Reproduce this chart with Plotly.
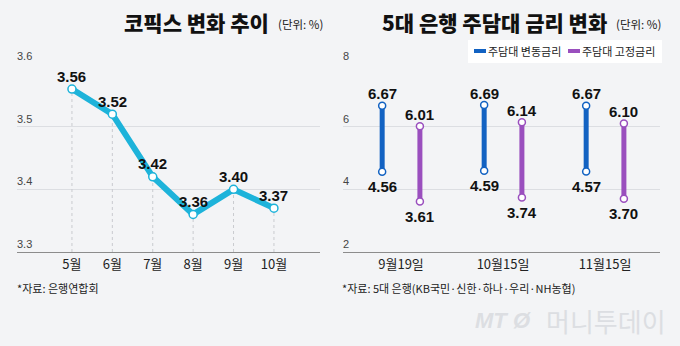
import plotly.graph_objects as go

# COFIX monthly values
months = ["5월", "6월", "7월", "8월", "9월", "10월"]
cofix = [3.56, 3.52, 3.42, 3.36, 3.40, 3.37]
cofix_ticks = [3.3, 3.4, 3.5, 3.6]

# Mortgage rate ranges of the five major banks
dates = ["9월19일", "10월15일", "11월15일"]
var_low = [4.56, 4.59, 4.57]
var_high = [6.67, 6.69, 6.67]
fix_low = [3.61, 3.74, 3.70]
fix_high = [6.01, 6.14, 6.10]
rate_ticks = [2, 4, 6, 8]

W, H = 680, 346
BG = "#f3f4f6"
CYAN = "#1db3da"
BLUE = "#1262c2"
PURPLE = "#9a4fbe"
GRID = "#dcdee2"
AXIS = "#8c8c8c"
KR = "Noto Sans CJK KR"
NUM = "Liberation Sans, Arial, sans-serif"


def px(x):
    return x / W


def py(y):
    return 1 - y / H


fig = go.Figure()

# ---- left: COFIX line ----
xi = list(range(len(months)))
drop_x, drop_y = [], []
for x, v in zip(xi, cofix):
    drop_x += [x, x, None]
    drop_y += [cofix_ticks[0], v, None]
fig.add_trace(go.Scatter(x=drop_x, y=drop_y, mode="lines", xaxis="x", yaxis="y",
                         line=dict(color="#c9cbcf", width=1, dash="dot"),
                         hoverinfo="skip", showlegend=False))
fig.add_trace(go.Scatter(x=xi, y=cofix, mode="lines+markers", xaxis="x", yaxis="y",
                         line=dict(color=CYAN, width=6),
                         marker=dict(size=8, color="white", line=dict(color=CYAN, width=1.5)),
                         showlegend=False, cliponaxis=False))

annotations = []
for x, v in zip(xi, cofix):
    annotations.append(dict(x=x, y=v, xref="x", yref="y", text=f"<b>{v:.2f}</b>",
                            showarrow=False, yshift=13, yanchor="middle",
                            font=dict(family=NUM, size=15, color="#111")))

# ---- right: rate ranges ----
OFF = 0.185
for lows, highs, color, sign in [(var_low, var_high, BLUE, -1), (fix_low, fix_high, PURPLE, 1)]:
    bx, by = [], []
    for i, (lo, hi) in enumerate(zip(lows, highs)):
        bx += [i + sign * OFF, i + sign * OFF, None]
        by += [lo, hi, None]
        annotations.append(dict(x=i + sign * OFF, y=hi, xref="x2", yref="y2",
                                text=f"<b>{hi:.2f}</b>", showarrow=False, yshift=12,
                                yanchor="middle", font=dict(family=NUM, size=15, color="#111")))
        annotations.append(dict(x=i + sign * OFF, y=lo, xref="x2", yref="y2",
                                text=f"<b>{lo:.2f}</b>", showarrow=False, yshift=-15,
                                yanchor="middle", font=dict(family=NUM, size=15, color="#111")))
    fig.add_trace(go.Scatter(x=bx, y=by, mode="lines+markers", xaxis="x2", yaxis="y2",
                             line=dict(color=color, width=5),
                             marker=dict(size=7, color="white", line=dict(color=color, width=1.5)),
                             showlegend=False, cliponaxis=False))

# y tick labels sit just above their gridlines, flush with the plot's left edge
for ref, ticks, fmt in [("y", cofix_ticks, "{:.1f}"), ("y2", rate_ticks, "{}")]:
    xdom = "x domain" if ref == "y" else "x2 domain"
    for t in ticks:
        annotations.append(dict(x=0, y=t, xref=xdom, yref=ref, xanchor="left", yanchor="middle",
                                text=fmt.format(t), showarrow=False, yshift=8, xshift=-2,
                                font=dict(family=NUM, size=11, color="#444")))

ydom = [py(252), py(64)]
common_y = dict(showgrid=True, gridcolor=GRID, gridwidth=1, zeroline=False,
                showticklabels=False, ticks="", showline=False)
common_x = dict(showgrid=False, zeroline=False, showline=True, linecolor=AXIS, linewidth=1,
                ticks="", tickfont=dict(family=KR, size=13, color="#222"))

fig.update_layout(
    width=W, height=H, margin=dict(l=0, r=0, t=0, b=0),
    paper_bgcolor=BG, plot_bgcolor=BG, showlegend=False,
    xaxis=dict(domain=[px(17), px(320)], range=[-1.36, 6.14], tickvals=xi, ticktext=months,
               anchor="y", **common_x),
    yaxis=dict(domain=ydom, range=[3.3, 3.6], tickvals=cofix_ticks, anchor="x", **common_y),
    xaxis2=dict(domain=[px(343), px(660)], range=[-0.569, 2.539], tickvals=[0, 1, 2],
                ticktext=dates, anchor="y2", **common_x),
    yaxis2=dict(domain=ydom, range=[2, 8], tickvals=rate_ticks, anchor="x2", **common_y),
)

# titles
annotations += [
    dict(x=px(271), y=py(22), xref="paper", yref="paper", xanchor="right", yanchor="middle",
         text="코픽스 변화 추이", showarrow=False,
         font=dict(family=KR, size=21, color="#111", weight=900)),
    dict(x=px(276), y=py(24), xref="paper", yref="paper", xanchor="left", yanchor="middle",
         text="(단위: %)", showarrow=False, font=dict(family=KR, size=11.5, color="#222")),
    dict(x=px(609), y=py(22), xref="paper", yref="paper", xanchor="right", yanchor="middle",
         text="5대 은행 주담대 금리 변화", showarrow=False,
         font=dict(family=KR, size=21, color="#111", weight=900)),
    dict(x=px(614), y=py(24), xref="paper", yref="paper", xanchor="left", yanchor="middle",
         text="(단위: %)", showarrow=False, font=dict(family=KR, size=11.5, color="#222")),
]

# legend box
shapes = [
    dict(type="rect", xref="paper", yref="paper", x0=px(468), x1=px(662), y0=py(63), y1=py(40),
         fillcolor="white", line=dict(width=0), layer="below"),
    dict(type="rect", xref="paper", yref="paper", x0=px(474), x1=px(486), y0=py(53), y1=py(49),
         fillcolor=BLUE, line=dict(width=0)),
    dict(type="rect", xref="paper", yref="paper", x0=px(568), x1=px(580), y0=py(53), y1=py(49),
         fillcolor=PURPLE, line=dict(width=0)),
]
annotations += [
    dict(x=px(486), y=py(51), xref="paper", yref="paper", xanchor="left", yanchor="middle",
         text="주담대 변동금리", showarrow=False, font=dict(family=KR, size=11, color="#222")),
    dict(x=px(580), y=py(51), xref="paper", yref="paper", xanchor="left", yanchor="middle",
         text="주담대 고정금리", showarrow=False, font=dict(family=KR, size=11, color="#222")),
]

# sources
annotations += [
    dict(x=px(15), y=py(288), xref="paper", yref="paper", xanchor="left", yanchor="middle",
         text="*자료: 은행연합회", showarrow=False, font=dict(family=KR, size=11, color="#222")),
    dict(x=px(340), y=py(288), xref="paper", yref="paper", xanchor="left", yanchor="middle",
         text="*자료: 5대 은행(KB국민·신한·하나·우리·NH농협)", showarrow=False,
         font=dict(family=KR, size=11, color="#222")),
]

# watermark
annotations += [
    dict(x=px(473), y=py(320), xref="paper", yref="paper", xanchor="left", yanchor="middle",
         text="<b><i>MT Ø</i></b>", showarrow=False,
         font=dict(family=NUM, size=22, color="#dcdee2")),
    dict(x=px(668), y=py(320), xref="paper", yref="paper", xanchor="right", yanchor="middle",
         text="머니투데이", showarrow=False, font=dict(family=KR, size=26, color="#dcdee2")),
]

fig.update_layout(annotations=annotations, shapes=shapes)
fig.write_html("out.html")
